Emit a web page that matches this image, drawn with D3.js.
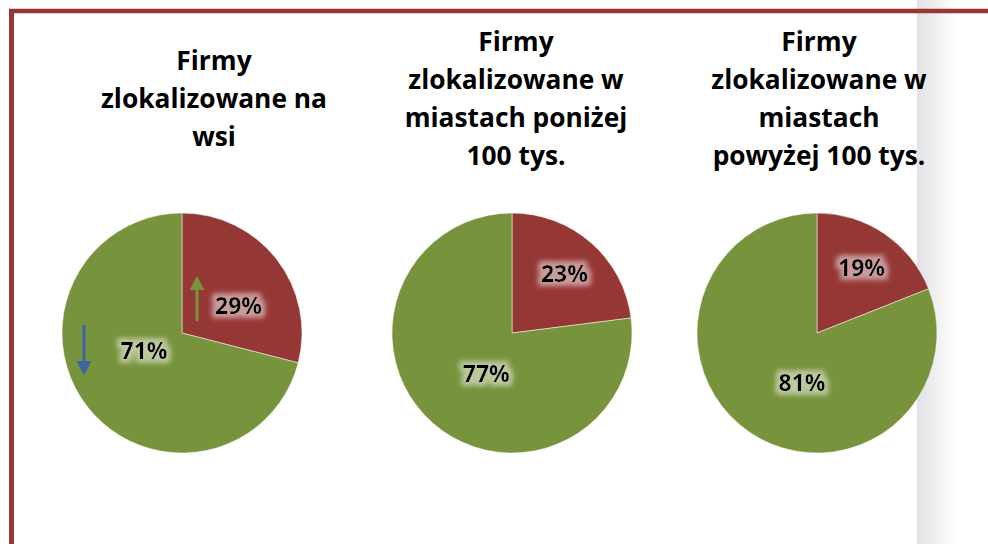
<!DOCTYPE html>
<html>
<head>
<meta charset="utf-8">
<script src="https://cdn.jsdelivr.net/npm/d3@7"></script>
<style>
  html, body { margin: 0; padding: 0; background: #fff; }
  svg { display: block; }
</style>
</head>
<body>
<div id="chart"></div>
<script>
// data
const titles = [
    ["Firmy", "zlokalizowane na", "wsi"],
    ["Firmy", "zlokalizowane w", "miastach poniżej", "100 tys."],
    ["Firmy", "zlokalizowane w", "miastach", "powyżej 100 tys."]
];
const sliceNames = ["czerwony", "zielony"];
const redShare = [29, 23, 19];
const greenShare = [71, 77, 81];

const FONT = "'Open Sans', 'Noto Sans', sans-serif";

function init() {
    const width = 988,
        height = 544,
        radius = 120;

    // layout of the three pies
    const pieX = [182, 512, 817];
    const pieY = 333;
    const titleX = [214, 516, 819];
    const titleMid = 108,
        lineH = 37.7;

    const color = d3.scaleOrdinal()
        .domain(sliceNames)
        .range(["#953735", "#77933C"]);

    const svg = d3.select("#chart")
        .append("svg")
        .attr("width", width)
        .attr("height", height);

    // find a font size giving the wanted text width
    function fitSize(str, target) {
        const t = svg.append("text")
            .style("font-family", FONT).style("font-weight", "bold").style("font-size", "100px")
            .text(str);
        const w = t.node().getComputedTextLength();
        t.remove();
        return 100 * target / w;
    }
    const titleSize = fitSize("zlokalizowane na", 226);
    const labelSize = fitSize("29%", 47);

    const defs = svg.append("defs");

    // soft light halo behind the percent labels
    const glow = defs.append("filter")
        .attr("id", "glow")
        .attr("x", "-30%").attr("y", "-40%")
        .attr("width", "160%").attr("height", "180%");
    glow.append("feMorphology")
        .attr("in", "SourceAlpha").attr("operator", "dilate").attr("radius", 3.5)
        .attr("result", "fat");
    glow.append("feFlood").attr("flood-color", "#fff").attr("flood-opacity", 0.5);
    glow.append("feComposite").attr("in2", "fat").attr("operator", "in");
    glow.append("feGaussianBlur").attr("stdDeviation", 2.5).attr("result", "halo");
    const merge = glow.append("feMerge");
    merge.append("feMergeNode").attr("in", "halo");
    merge.append("feMergeNode").attr("in", "SourceGraphic");

    // grey page edge on the right
    const grad = defs.append("linearGradient").attr("id", "edge");
    grad.append("stop").attr("offset", "0%").attr("stop-color", "#e2e2e6");
    grad.append("stop").attr("offset", "100%").attr("stop-color", "#ffffff");
    svg.append("rect")
        .attr("x", 917).attr("y", 0)
        .attr("width", 40).attr("height", height)
        .attr("fill", "url(#edge)");

    // frame (top and left only visible)
    svg.append("line")
        .attr("x1", 9).attr("x2", width).attr("y1", 11).attr("y2", 11)
        .attr("stroke", "#953735").attr("stroke-width", 4.5);
    svg.append("line")
        .attr("x1", 11.5).attr("x2", 11.5).attr("y1", 9).attr("y2", height)
        .attr("stroke", "#953735").attr("stroke-width", 5);

    const pie = d3.pie()
        .sort(null)
        .value(d => d[1]);

    const arc = d3.arc()
        .innerRadius(0)
        .outerRadius(radius);

    const smallLabelArc = d3.arc().innerRadius(radius * 0.66).outerRadius(radius * 0.66);
    const bigLabelArc = d3.arc().innerRadius(radius * 0.4).outerRadius(radius * 0.4);

    titles.forEach((lines, i) => {
        const data = [[sliceNames[0], redShare[i]], [sliceNames[1], greenShare[i]]];
        const data_ready = pie(data);

        // title
        const first = titleMid - (lines.length - 1) * lineH / 2;
        svg.append("text")
            .attr("x", titleX[i])
            .attr("text-anchor", "middle")
            .style("font-family", FONT)
            .style("font-weight", "bold")
            .style("font-size", titleSize + "px")
            .style("fill", "#000")
            .selectAll("tspan")
            .data(lines)
            .join("tspan")
            .attr("x", titleX[i])
            .attr("y", (d, k) => first + k * lineH)
            .text(d => d);

        const g = svg.append("g")
            .attr("transform", `translate(${pieX[i]},${pieY})`);

        g.selectAll("path")
            .data(data_ready)
            .join("path")
            .attr("d", arc)
            .attr("fill", d => color(d.data[0]))
            .attr("stroke", "#fff")
            .attr("stroke-width", 0.5);

        g.selectAll("text")
            .data(data_ready)
            .join("text")
            .attr("transform", d => {
                const pos = (d.endAngle - d.startAngle < Math.PI ? smallLabelArc : bigLabelArc).centroid(d);
                // first pie: labels moved beside the arrows
                if (i === 0 && d.index === 0) { pos[0] -= 6; pos[1] += 21; }
                if (i === 0 && d.index === 1) pos[1] -= 12;
                // big slices: Excel "best fit" pushes the label a bit right and down
                if (i > 0 && d.index === 1) { pos[0] += 6 * i; pos[1] += 5 * i; }
                return `translate(${pos})`;
            })
            .attr("dy", "0.36em")
            .attr("text-anchor", "middle")
            .attr("filter", "url(#glow)")
            .style("font-family", FONT)
            .style("font-weight", "bold")
            .style("font-size", labelSize + "px")
            .style("fill", "#000")
            .text(d => d.data[1] + "%");

        // arrows on the first pie
        if (i === 0) {
            const arrow = (x, y1, y2, fill) => {
                const dir = y2 < y1 ? -1 : 1;
                g.append("line")
                    .attr("x1", x).attr("x2", x)
                    .attr("y1", y1).attr("y2", y2 - dir * 12)
                    .attr("stroke", fill).attr("stroke-width", 3);
                g.append("path")
                    .attr("d", `M${x - 7.5},${y2 - dir * 14}L${x + 7.5},${y2 - dir * 14}L${x},${y2}Z`)
                    .attr("fill", fill);
            };
            arrow(15, -12, -57, "#77933C");
            arrow(-98, -8, 42, "#3A65A0");
        }
    });
}

window.onload = init;
</script>
</body>
</html>
